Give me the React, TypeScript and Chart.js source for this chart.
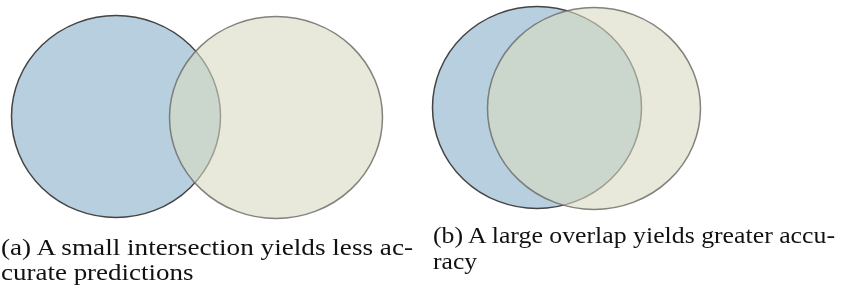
import React, { useEffect, useRef, useMemo } from "react";
import { Chart, registerables } from "chart.js";

Chart.register(...registerables);

// Venn sets (data units = chart scale units)
const setLabels = ["Set A (a)", "Set B (a)", "Set A (b)", "Set B (b)"];
const centerX = [116, 276, 537, 594];
const centerY = [116.5, 117.5, 107.5, 108.5];
const radiusX = [104.5, 106.5, 104.5, 106.5];
const radiusY = [101, 101, 101, 101];

// Captions
const captionA = ["(a) A small intersection yields less ac-", "curate predictions"];
const captionB = ["(b) A large overlap yields greater accu-", "racy"];

const FILL = ["#b7cfdf", "rgba(217,218,193,0.6)", "#b7cfdf", "rgba(217,218,193,0.6)"];
const STROKE = ["#444444", "rgba(110,110,105,0.85)", "#444444", "rgba(110,110,105,0.85)"];

const ellipsePlugin = {
  id: "vennEllipses",
  afterDatasetsDraw(chart: any) {
    const ctx = chart.ctx;
    const xs = chart.scales.x;
    const ys = chart.scales.y;
    chart.data.datasets.forEach((ds: any) => {
      const p = ds.data[0];
      const cx = xs.getPixelForValue(p.x);
      const cy = ys.getPixelForValue(p.y);
      const rx = Math.abs(xs.getPixelForValue(p.x + ds.rx) - cx);
      const ry = Math.abs(ys.getPixelForValue(p.y + ds.ry) - cy);
      ctx.save();
      ctx.beginPath();
      ctx.ellipse(cx, cy, rx, ry, 0, 0, Math.PI * 2);
      ctx.fillStyle = ds.backgroundColor;
      ctx.fill();
      ctx.lineWidth = 1.5;
      ctx.strokeStyle = ds.borderColor;
      ctx.stroke();
      ctx.restore();
    });
  },
};

const FONT_SIZE = 23;
const FAMILY = "Liberation Serif";
const FONT = `${FONT_SIZE}px "${FAMILY}"`;

function measure(text: string): number {
  const c = document.createElement("canvas");
  const ctx = c.getContext("2d")!;
  ctx.font = FONT;
  return ctx.measureText(text).width;
}

export default function App() {
  const canvasRef = useRef<HTMLCanvasElement | null>(null);

  useEffect(() => {
    document.body.style.margin = "0";
    const chart = new Chart(canvasRef.current!, {
      type: "scatter",
      data: {
        datasets: setLabels.map((label, i) => ({
          label,
          data: [{ x: centerX[i], y: centerY[i] }],
          rx: radiusX[i],
          ry: radiusY[i],
          backgroundColor: FILL[i],
          borderColor: STROKE[i],
          pointRadius: 0,
        })) as any,
      },
      options: {
        animation: false,
        responsive: false,
        maintainAspectRatio: false,
        layout: { padding: 0 },
        plugins: { legend: { display: false }, tooltip: { enabled: false } },
        scales: {
          x: { type: "linear", min: 0, max: 847, display: false },
          y: { type: "linear", min: 0, max: 289, reverse: true, display: false },
        },
      },
      plugins: [ellipsePlugin],
    });
    return () => chart.destroy();
  }, []);

  const lens = useMemo(() => {
    const sA = 412 / measure(captionA[0]);
    const sB = 402 / measure(captionB[0]);
    return {
      a: [412, measure(captionA[1]) * sA],
      b: [402, measure(captionB[1]) * sB],
    };
  }, []);

  const tp = { fontFamily: FAMILY, fontSize: FONT_SIZE, fill: "#111", lengthAdjust: "spacingAndGlyphs" } as any;

  return (
    <div style={{ position: "fixed", left: 0, top: 0, width: 847, height: 289, background: "#fff" }}>
      <canvas ref={canvasRef} width={847} height={289} style={{ position: "absolute", left: 0, top: 0 }} />
      <svg width={847} height={289} style={{ position: "absolute", left: 0, top: 0 }}>
        <text x={1} y={255} {...tp} textLength={lens.a[0]}>{captionA[0]}</text>
        <text x={1} y={280} {...tp} textLength={lens.a[1]}>{captionA[1]}</text>
        <text x={433} y={243} {...tp} textLength={lens.b[0]}>{captionB[0]}</text>
        <text x={433} y={269} {...tp} textLength={lens.b[1]}>{captionB[1]}</text>
      </svg>
    </div>
  );
}
